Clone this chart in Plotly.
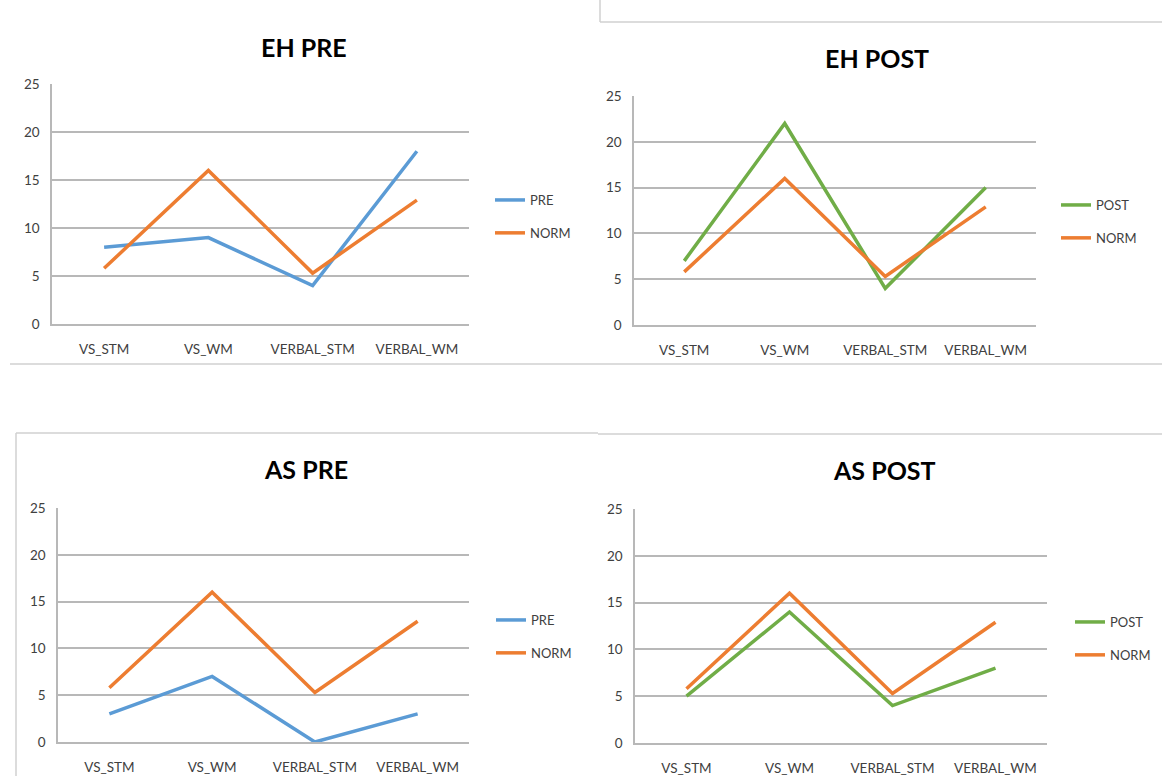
import plotly.graph_objects as go

categories = ["VS_STM", "VS_WM", "VERBAL_STM", "VERBAL_WM"]
norm = [5.8, 16, 5.3, 12.9]
eh_pre = [8, 9, 4, 18]
eh_post = [7, 22, 4, 15]
as_pre = [3, 7, 0, 3]
as_post = [5, 14, 4, 8]
y_ticks = [0, 5, 10, 15, 20, 25]

W, H = 1162, 776
BLUE, ORANGE, GREEN = "#5B9BD5", "#ED7D31", "#70AD47"
FONT = "Lato"
GRID = "#b8b8b8"
TXT = "#404040"


def fx(px):
    return px / W


def fy(py):
    return 1 - py / H


# title, series name, values, colour, plot area (x0, x1, ytop, ybottom), title centre, legend top-left
panels = [
    ("EH PRE", "PRE", eh_pre, BLUE, (52, 469, 84, 324), (304, 47), (490, 185)),
    ("EH POST", "POST", eh_post, GREEN, (634, 1036, 96, 325), (877, 58), (1056, 190)),
    ("AS PRE", "PRE", as_pre, BLUE, (58, 469, 508, 742), (306, 469), (491, 605)),
    ("AS POST", "POST", as_post, GREEN, (635, 1047, 509, 743), (884, 470), (1070, 607)),
]

fig = go.Figure()
annotations = []
layout = {}
for i, (title, name, vals, col, area, tpos, lpos) in enumerate(panels, start=1):
    sfx = "" if i == 1 else str(i)
    xa, ya = f"x{sfx}", f"y{sfx}"
    leg = "legend" if i == 1 else f"legend{i}"
    fig.add_trace(go.Scatter(x=categories, y=vals, name=name, mode="lines",
                             line=dict(color=col, width=3.5), xaxis=xa, yaxis=ya,
                             legend=leg, legendgroup=f"a{i}"))
    fig.add_trace(go.Scatter(x=categories, y=norm, name="NORM", mode="lines",
                             line=dict(color=ORANGE, width=3.5), xaxis=xa, yaxis=ya,
                             legend=leg, legendgroup=f"b{i}"))
    x0, x1, yt, yb = area
    layout[f"xaxis{sfx}"] = dict(domain=[fx(x0), fx(x1)], anchor=ya, range=[-0.5, 3.5],
                                  showgrid=False, showline=True, linecolor=GRID, linewidth=1.5,
                                  ticks="outside", ticklen=12, tickcolor="rgba(0,0,0,0)",
                                  tickfont=dict(family=FONT, size=13.5, color=TXT),
                                  zeroline=False, fixedrange=True, automargin=False)
    layout[f"yaxis{sfx}"] = dict(domain=[fy(yb), fy(yt)], anchor=xa, range=[0, 25],
                                  tickvals=y_ticks, showgrid=True, gridcolor=GRID, gridwidth=1.5,
                                  showline=True, linecolor=GRID, linewidth=1.5,
                                  ticks="outside", ticklen=8, tickcolor="rgba(0,0,0,0)",
                                  tickfont=dict(family=FONT, size=13.5, color=TXT),
                                  zeroline=False, fixedrange=True, automargin=False)
    layout[leg] = dict(x=fx(lpos[0]), y=fy(lpos[1]), xanchor="left", yanchor="top",
                       bgcolor="rgba(0,0,0,0)", borderwidth=0, tracegroupgap=13,
                       font=dict(family=FONT, size=13, color=TXT))
    annotations.append(dict(text=f"<b>{title}</b>", x=fx(tpos[0]), y=fy(tpos[1]),
                            xref="paper", yref="paper", showarrow=False,
                            xanchor="center", yanchor="middle",
                            font=dict(family=FONT, size=25, color="#000000")))

# light panel borders from the source document
sep = "#d0d0d0"
shapes = [
    dict(type="line", x0=fx(600), x1=fx(600), y0=1, y1=fy(22)),
    dict(type="line", x0=fx(600), x1=1, y0=fy(22), y1=fy(22)),
    dict(type="line", x0=fx(10), x1=fx(596), y0=fy(364), y1=fy(364)),
    dict(type="line", x0=fx(596), x1=1, y0=fy(364), y1=fy(364)),
    dict(type="line", x0=fx(16), x1=fx(598), y0=fy(433), y1=fy(433)),
    dict(type="line", x0=fx(16), x1=fx(16), y0=fy(433), y1=0),
    dict(type="line", x0=fx(598), x1=1, y0=fy(434), y1=fy(434)),
]
for s in shapes:
    s.update(xref="paper", yref="paper", line=dict(color=sep, width=1.5))

fig.update_layout(width=W, height=H, margin=dict(l=0, r=0, t=0, b=0, autoexpand=False),
                  paper_bgcolor="white", plot_bgcolor="white",
                  showlegend=True, annotations=annotations, shapes=shapes, **layout)

# remove the default 8px page margin so the full-size figure fits the window exactly
fig.write_html("out.html", config={"displayModeBar": False},
               post_script="document.body.style.margin='0';document.body.style.overflow='hidden';")
